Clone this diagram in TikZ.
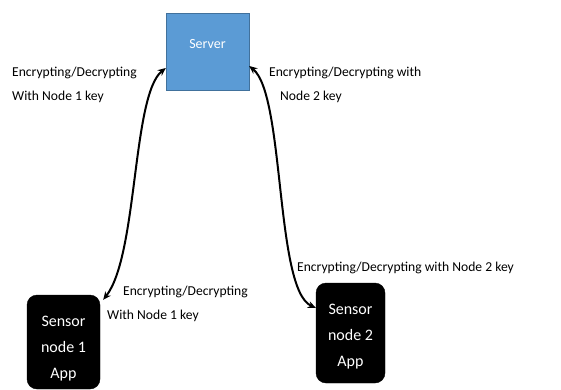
\documentclass[tikz,border=0pt]{standalone}
\usepackage{fontspec}
\setmainfont{Carlito}
\usetikzlibrary{arrows.meta}
\definecolor{serverblue}{RGB}{91,155,213}
\definecolor{serveredge}{RGB}{65,113,156}
\begin{document}
\begin{tikzpicture}[x=1pt,y=-1pt,
  lbl/.style={font=\fontsize{13.6}{16}\selectfont, inner sep=0pt, anchor=west},
  sensorbox/.style={fill=black, draw=black, rounded corners=10pt},
  sensortext/.style={text=white, font=\fontsize{16}{26}\selectfont, align=center, inner sep=0pt},
  link/.style={line width=2pt, {Stealth[length=8pt,width=7pt]}-{Stealth[length=8pt,width=7pt]}}]
\useasboundingbox (0,0) rectangle (561,390);
\node[fill=serverblue, draw=serveredge, minimum width=83pt, minimum height=77pt] (server) at (207.5,51.5) {};
\node[text=white, font=\fontsize{14}{16}\selectfont] (stext) at (207.5,44) {Server};
\node[sensorbox, minimum width=73pt, minimum height=94pt] (s1) at (63.5,342) {};
\node[sensorbox, minimum width=69pt, minimum height=100pt] (s2) at (350.5,333) {};
\node[sensortext] (s1t) at ([yshift=-7pt]s1.center) {Sensor\\node 1\\App};
\node[sensortext] (s2t) at ([yshift=-4pt]s2.center) {Sensor\\node 2\\App};
\coordinate (s1tip) at ([xshift=3pt,yshift=-5pt]s1.north east);
\coordinate (sv1) at ([yshift=-16.5pt]server.west);
\coordinate (sv2) at ([yshift=-14.5pt]server.east);
\coordinate (s2tip) at ([yshift=-25pt]s2.north west);
\draw[link] (s1tip) .. controls (138,255) and (132,95) .. (sv1);
\draw[link] (sv2) .. controls (285,95) and (275,290) .. (s2tip);
\node[lbl] (l1a) at (12,73) {Encrypting/Decrypting};
\node[lbl] (l1b) at (12,97) {With Node 1 key};
\node[lbl] (l2a) at (269,73) {Encrypting/Decrypting with};
\node[lbl] (l2b) at (280,97) {Node 2 key};
\node[lbl] (l3) at (297,268) {Encrypting/Decrypting with Node 2 key};
\node[lbl] (l4a) at (123,292) {Encrypting/Decrypting};
\node[lbl] (l4b) at (107,316) {With Node 1 key};
\end{tikzpicture}
\end{document}
